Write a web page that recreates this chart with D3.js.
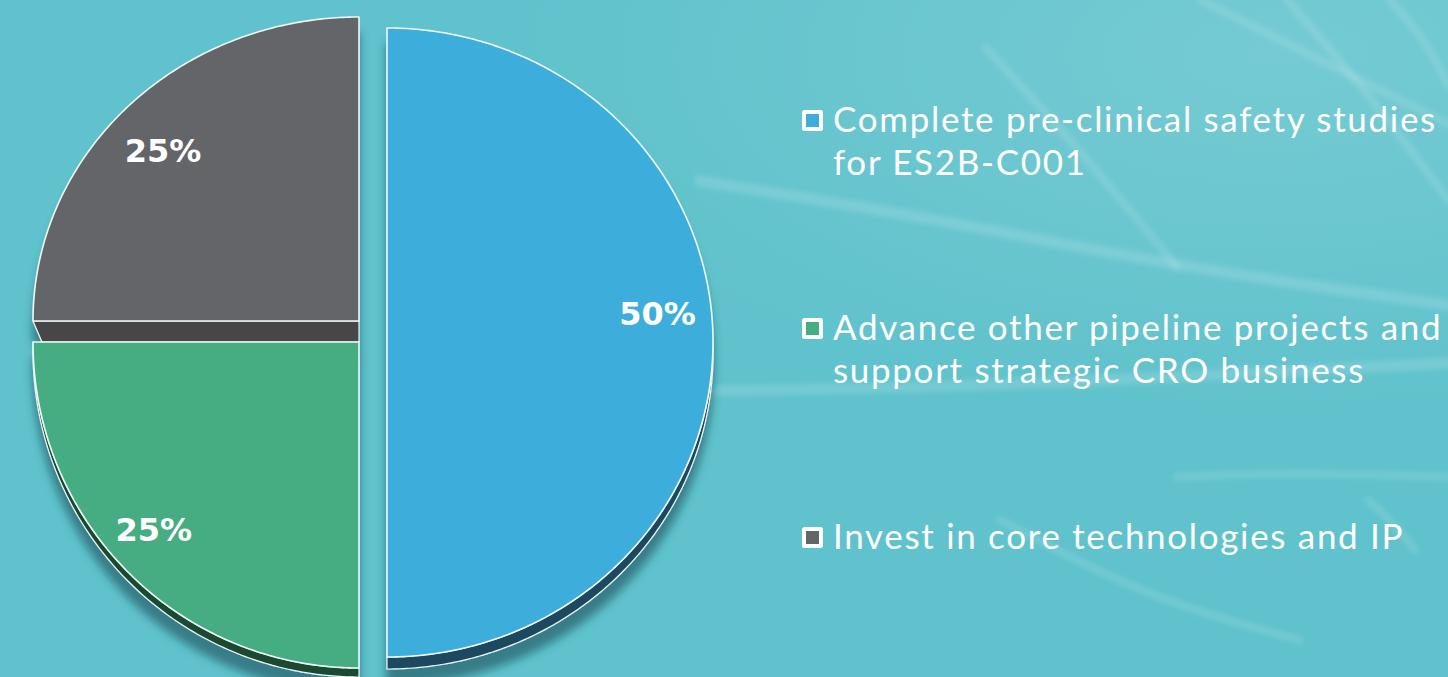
<!DOCTYPE html>
<html>
<head>
<meta charset="utf-8">
<script src="https://cdn.jsdelivr.net/npm/d3@7/dist/d3.min.js"></script>
<style>
  html, body { margin: 0; padding: 0; background: #5fc2cc; overflow: hidden; }
  svg { display: block; }
</style>
</head>
<body>
<svg id="chart" width="1448" height="677"></svg>
<script>
// ---- data ----
const categories = [
  "Complete pre-clinical safety studies for ES2B-C001",
  "Advance other pipeline projects and support strategic CRO business",
  "Invest in core technologies and IP"
];
const legendLines = [
  ["Complete pre-clinical safety studies", "for ES2B-C001"],
  ["Advance other pipeline projects and", "support strategic CRO business"],
  ["Invest in core technologies and IP"]
];
const shares = [50, 25, 25];

// ---- styling ----
const topColors  = ["#3daedb", "#45ad81", "#646567"];
const sideColors = ["#1b4a5e", "#1b4a31", "#464747"];
const edgeColor = "#eef7f7";

const W = 1448, H = 677;
const svg = d3.select("#chart");
const defs = svg.append("defs");

// background
const bg = defs.append("radialGradient").attr("id", "bgGlow")
  .attr("cx", "88%").attr("cy", "8%").attr("r", "55%");
bg.append("stop").attr("offset", "0%").attr("stop-color", "#ffffff").attr("stop-opacity", 0.14);
bg.append("stop").attr("offset", "100%").attr("stop-color", "#ffffff").attr("stop-opacity", 0);
svg.append("rect").attr("width", W).attr("height", H).attr("fill", "#5fc2cc");
svg.append("rect").attr("width", W).attr("height", H).attr("fill", "url(#bgGlow)");

// faint wing-vein motif behind the legend
defs.append("filter").attr("id", "veinBlur")
  .append("feGaussianBlur").attr("stdDeviation", 2.4);
const veins = [
  [[700,181],[939,219],[1177,267],[1448,305]],
  [[700,391],[900,388],[1082,382],[1448,363]],
  [[986,48],[1080,150],[1177,267]],
  [[1201,0],[1320,60],[1448,124]],
  [[1287,0],[1370,95],[1448,200]],
  [[1390,0],[1425,40],[1448,85]],
  [[1177,477],[1300,472],[1448,477]],
  [[1368,500],[1395,525],[1415,550]],
  [[1000,520],[1150,600],[1300,640]]
];
const veinLine = d3.line().curve(d3.curveBasis);
svg.append("g").attr("filter", "url(#veinBlur)")
  .selectAll("path").data(veins).join("path")
  .attr("d", veinLine)
  .attr("fill", "none")
  .attr("stroke", "#ffffff")
  .attr("stroke-opacity", (d, i) => i < 2 ? 0.14 : 0.12)
  .attr("stroke-width", (d, i) => i < 2 ? 11 : 8)
  .attr("stroke-linecap", "round");

// soft shadow under each slice
const sh = defs.append("filter").attr("id", "sliceShadow")
  .attr("x", "-10%").attr("y", "-10%").attr("width", "120%").attr("height", "130%");
sh.append("feDropShadow").attr("dx", 0).attr("dy", 16).attr("stdDeviation", 4)
  .attr("flood-color", "#0b4550").attr("flood-opacity", 0.55);

// ---- pie geometry (tilted, exploded 3D look) ----
const pie = d3.pie().sort(null).value(d => d);
const arcs = pie(shares);

const base = { cx: 359, cy: 332, rx: 326 };
// per-slice explode offset, vertical radii and extrusion depth
const sliceGeom = [
  { dx: 28, dy: 10,  ryTop: 314, ryBot: 315, depth: 12, labelK: 0.83, labelShift: -28 },
  { dx: 0,  dy: 10,  ryTop: 326, ryBot: 326, depth: 9,  labelK: 0.89, labelShift: -17 },
  { dx: 0,  dy: -11, ryTop: 304, ryBot: 304, depth: 21, labelK: 0.85, labelShift: 13 }
];

function pt(g, a) {
  const c = Math.cos(a), s = Math.sin(a);
  return [base.cx + g.dx + base.rx * s, base.cy + g.dy - (c >= 0 ? g.ryTop : g.ryBot) * c];
}
function sample(g, a0, a1) {
  const n = Math.max(2, Math.ceil((a1 - a0) / 0.01));
  return d3.range(n + 1).map(i => pt(g, a0 + (a1 - a0) * i / n));
}

const pieG = svg.append("g");
const order = [2, 1, 0];
order.forEach(i => {
  const a = arcs[i], g = sliceGeom[i];
  const grp = pieG.append("g").attr("filter", "url(#sliceShadow)");
  const centre = [base.cx + g.dx, base.cy + g.dy];

  // extruded rim along the lower half of the arc
  const lo = Math.max(a.startAngle, Math.PI / 2), hi = Math.min(a.endAngle, 1.5 * Math.PI);
  if (hi > lo) {
    const rim = sample(g, lo, hi);
    const poly = rim.concat(rim.slice().reverse().map(p => [p[0], p[1] + g.depth]));
    grp.append("path")
      .attr("d", d3.line()(poly) + "Z")
      .attr("fill", sideColors[i])
      .attr("stroke", edgeColor).attr("stroke-width", 1.2).attr("stroke-linejoin", "round");
  }
  // cut face visible below a horizontal radial edge
  if (Math.abs(a.startAngle - 1.5 * Math.PI) < 1e-6 && a.endAngle > 1.5 * Math.PI) {
    const outer = pt(g, a.startAngle);
    const face = [centre, outer, [outer[0] + 9, outer[1] + g.depth], [centre[0], centre[1] + g.depth]];
    grp.append("path")
      .attr("d", d3.line()(face) + "Z")
      .attr("fill", sideColors[i])
      .attr("stroke", edgeColor).attr("stroke-width", 1.2).attr("stroke-linejoin", "round");
  }
  // top face
  const topPts = [centre].concat(sample(g, a.startAngle, a.endAngle));
  grp.append("path")
    .attr("d", d3.line()(topPts) + "Z")
    .attr("fill", topColors[i])
    .attr("stroke", edgeColor).attr("stroke-width", 1.6).attr("stroke-linejoin", "round");
});

// percentage labels
pieG.selectAll("text.pct").data(arcs).join("text")
  .attr("class", "pct")
  .each(function(a, i) {
    const g = sliceGeom[i];
    const mid = (a.startAngle + a.endAngle) / 2;
    const c = Math.cos(mid), s = Math.sin(mid);
    const x = base.cx + g.dx + g.labelK * base.rx * s;
    const y = base.cy + g.dy - g.labelK * (c >= 0 ? g.ryTop : g.ryBot) * c + g.labelShift;
    d3.select(this).attr("x", x).attr("y", y);
  })
  .attr("text-anchor", "middle")
  .attr("dominant-baseline", "central")
  .attr("font-family", "DejaVu Sans, sans-serif")
  .attr("font-weight", "bold")
  .attr("font-size", 32)
  .attr("fill", "#ffffff")
  .text(d => d.data + "%");

// ---- legend ----
const legendX = 802, textX = 833;
const legendTop = [110, 318, 527];
const lineGap = 43;
const legend = svg.append("g");
legendLines.forEach((lines, i) => {
  const y0 = legendTop[i];
  legend.append("rect").attr("x", legendX).attr("y", y0).attr("width", 21).attr("height", 21)
    .attr("rx", 2.5).attr("fill", "#ffffff");
  legend.append("rect").attr("x", legendX + 4).attr("y", y0 + 4).attr("width", 13).attr("height", 13)
    .attr("fill", topColors[i]);
  const t = legend.append("text")
    .attr("class", "leg")
    .attr("font-family", "Lato, 'Open Sans', sans-serif")
    .attr("font-weight", 400)
    .attr("font-size", 35)
    .attr("fill", "#ffffff");
  lines.forEach((ln, j) => {
    t.append("tspan").attr("x", textX).attr("y", y0 + 22 + j * lineGap).text(ln);
  });
});

// fit letter spacing so the widest line spans the available width
const probe = legend.select("text.leg tspan");
const w0 = probe.node().getComputedTextLength();
const target = 604;
const n = probe.text().length;
const ls = (target - w0) / n;
legend.selectAll("text.leg").attr("letter-spacing", ls.toFixed(2));
</script>
</body>
</html>
